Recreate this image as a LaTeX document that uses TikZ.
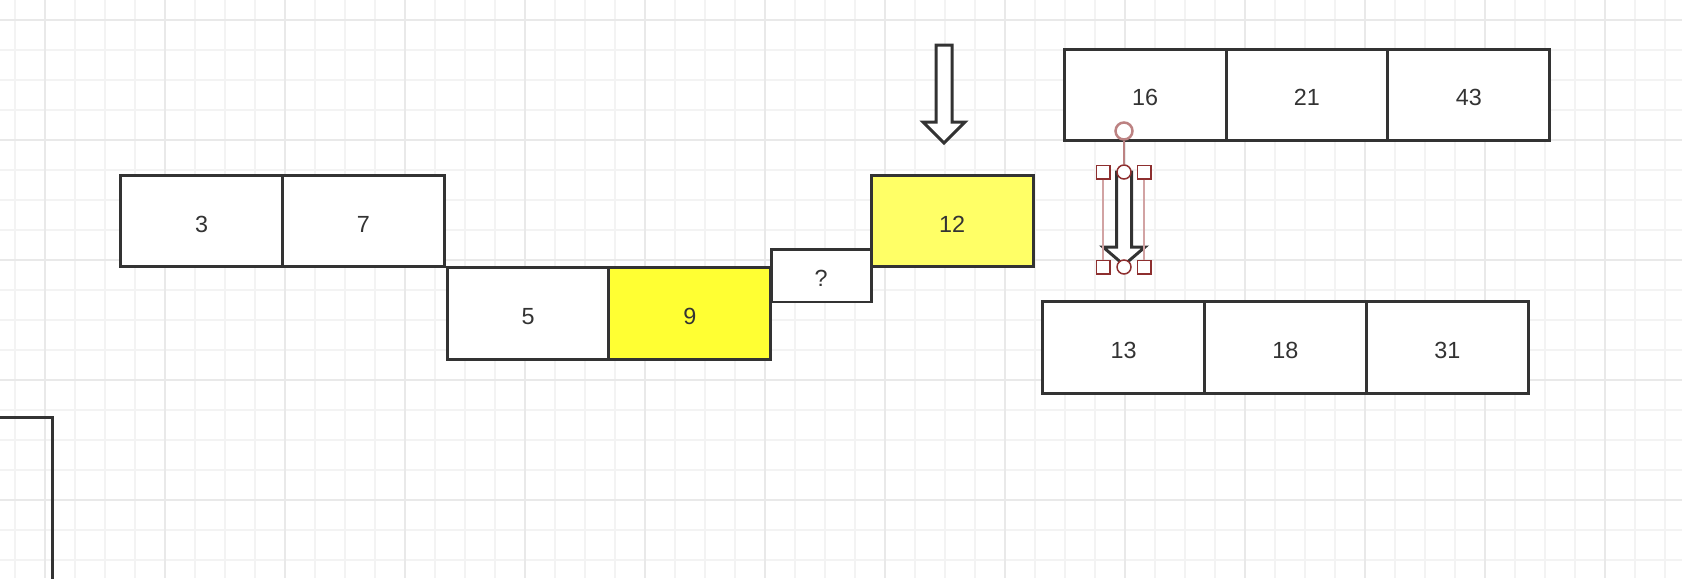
\documentclass[tikz,border=0pt]{standalone}
\usepackage{fontspec}
\setmainfont{Liberation Sans}
\usetikzlibrary{positioning}
\definecolor{ink}{HTML}{333333}
\definecolor{gridminor}{HTML}{F3F3F3}
\definecolor{gridmajor}{HTML}{E9E9E9}
\definecolor{hiY}{HTML}{FFFF33}
\definecolor{softY}{HTML}{FFFF66}
\definecolor{selR}{HTML}{8E2F2F}
\definecolor{selL}{HTML}{D2A3A3}
\definecolor{selM}{HTML}{BC8282}

\begin{document}
\begin{tikzpicture}[x=0.02cm, y=-0.02cm, font=\fontsize{13.3}{16}\selectfont,
  node distance=0pt,
  cell/.style={rectangle, draw=ink, line width=0.06cm, text=ink, fill=white,
               text height=0.44cm, text depth=0cm,
               minimum width=3.24cm, minimum height=1.84cm, inner sep=0pt, outer sep=0pt},
  hollow/.style={draw=ink, fill=white, line width=0.06cm, line join=miter},
  handle/.style={rectangle, draw=selR, fill=white, line width=0.03cm,
                 minimum size=0.27cm, inner sep=0pt},
  knob/.style={circle, draw=selR, fill=white, line width=0.03cm,
               minimum size=0.28cm, inner sep=0pt}]
  \clip (0,0) rectangle (1682,578);
  \fill[white] (0,0) rectangle (1682,578);
  % grid
  \foreach \gx in {15,45,...,1680} \draw[gridminor, line width=0.03cm] (\gx,0) -- (\gx,578);
  \foreach \gy in {20,50,...,578} \draw[gridminor, line width=0.03cm] (0,\gy) -- (1682,\gy);
  \foreach \gx in {45,165,...,1680} \draw[gridmajor, line width=0.03cm] (\gx,0) -- (\gx,578);
  \foreach \gy in {20,140,...,578} \draw[gridmajor, line width=0.03cm] (0,\gy) -- (1682,\gy);
  % left row
  \node[cell] (c3) at (201.5,221) {3};
  \node[cell, right=of c3] (c7) {7};
  \node[cell] (c5) at (528,313.5) {5};
  \node[cell, fill=hiY, right=of c5] (c9) {9};
  \node[cell, minimum width=2cm, minimum height=1.06cm] (q) at (821,275.5) {?};
  \node[cell, fill=softY] (c12) at (952,221) {12};
  % right rows
  \node[cell] (c16) at (1145,95) {16};
  \node[cell, right=of c16] (c21) {21};
  \node[cell, right=of c21] (c43) {43};
  \node[cell] (c13) at (1123.5,347.5) {13};
  \node[cell, right=of c13] (c18) {18};
  \node[cell, right=of c18] (c31) {31};
  % cut-off box
  \draw[ink, line width=0.06cm] (-10,417) -- (52,417) -- (52,600);
  % arrows
  \draw[hollow] (936,45) -- (952,45) -- (952,122) -- (965,122) -- (944,143)
    -- (923,122) -- (936,122) -- cycle;
  \draw[hollow] (1116.5,172) -- (1131.5,172) -- (1131.5,247) -- (1145,247) -- (1124,265)
    -- (1103,247) -- (1116.5,247) -- cycle;
  % selection
  \node[circle, draw=selM, fill=white, line width=0.05cm, minimum size=0.34cm,
        inner sep=0pt] (rot) at (1124,131) {};
  \node[knob] (k1) at (1124,172) {};
  \node[knob] (k2) at (1124,267) {};
  \draw[selM, line width=0.03cm] (rot) -- (k1);
  \node[handle] (h1) at (1103,172) {};
  \node[handle] (h2) at (1144,172) {};
  \node[handle] (h3) at (1103,267) {};
  \node[handle] (h4) at (1144,267) {};
  \draw[selL, line width=0.03cm] (h1) -- (h3);
  \draw[selL, line width=0.03cm] (h2) -- (h4);
\end{tikzpicture}
\end{document}
